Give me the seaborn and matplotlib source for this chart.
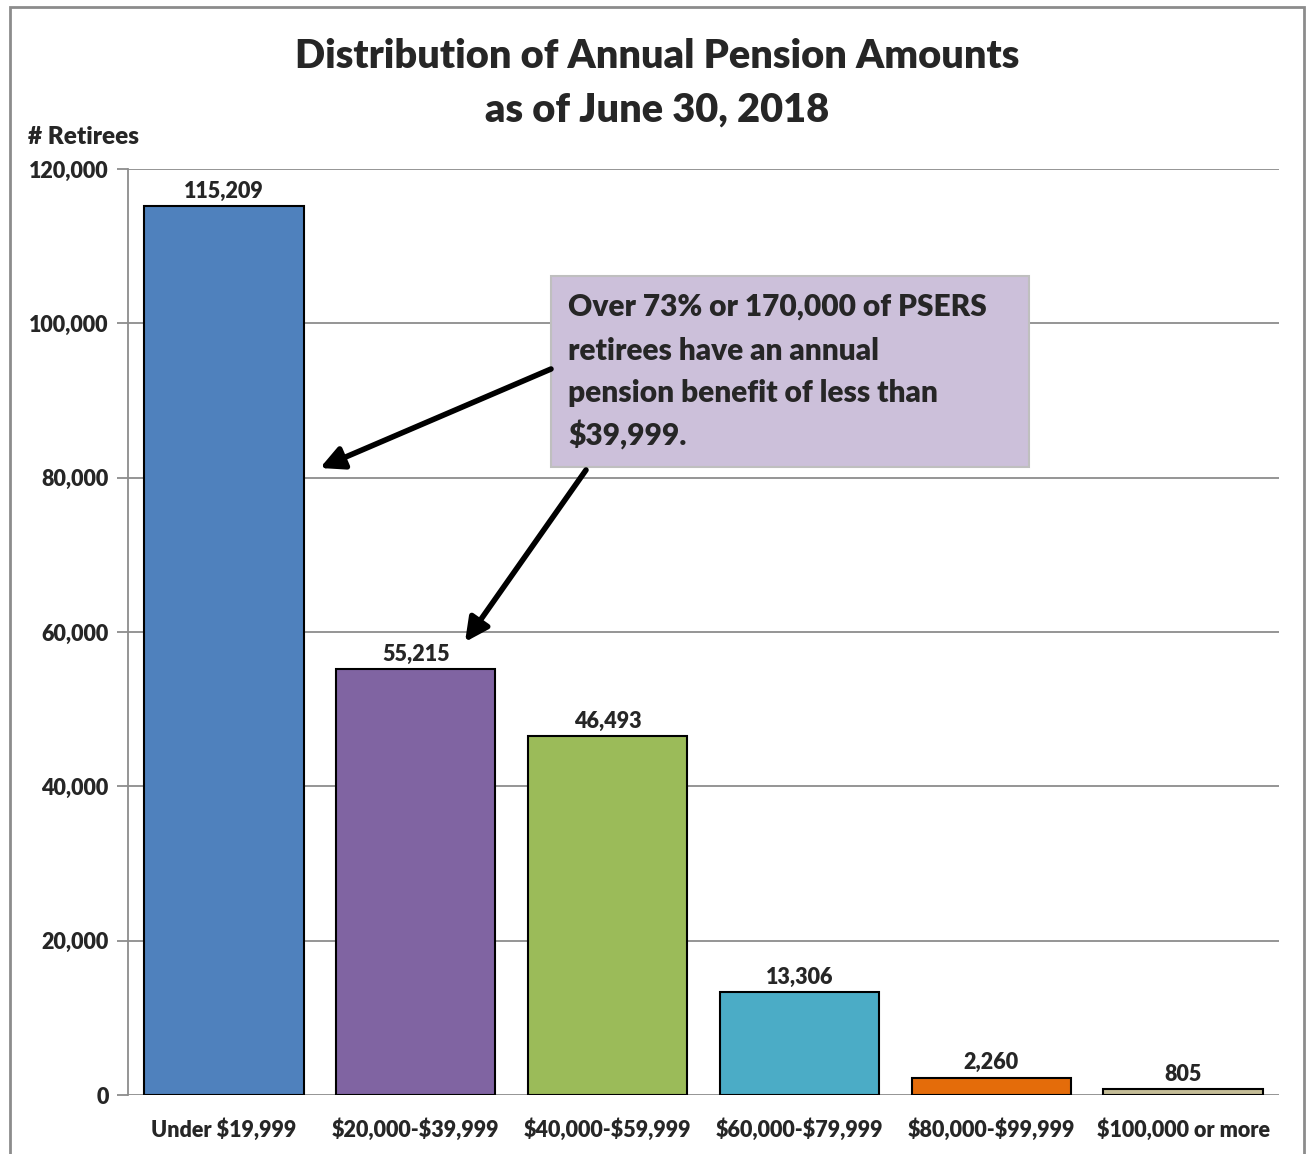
import matplotlib
matplotlib.use("Agg")
import matplotlib.pyplot as plt
import seaborn as sns
import pandas as pd
from matplotlib.patches import Rectangle, FancyArrowPatch

categories = ["Under $19,999", "$20,000-$39,999", "$40,000-$59,999",
              "$60,000-$79,999", "$80,000-$99,999", "$100,000 or more"]
retirees = [115209, 55215, 46493, 13306, 2260, 805]
colors = ["#4F81BD", "#8064A2", "#9BBB59", "#4BACC6", "#E46C0A", "#C4BD97"]
yticks = [0, 20000, 40000, 60000, 80000, 100000, 120000]
title_lines = ["Distribution of Annual Pension Amounts", "as of June 30, 2018"]
note_lines = ["Over 73% or 170,000 of PSERS", "retirees have an annual",
              "pension benefit of less than", "$39,999."]

sns.set_style("white")
plt.rcParams['font.family'] = ['Lato', 'DejaVu Sans']
plt.rcParams['font.weight'] = 'heavy'
plt.rcParams['text.parse_math'] = False
WT = 'heavy'

W, H = 1306, 1154
fig = plt.figure(figsize=(W / 100, H / 100), dpi=100)
ax = fig.add_axes([128 / W, 1 - 1095 / H, (1279 - 128) / W, (1095 - 169) / H])

df = pd.DataFrame({"cat": categories, "n": retirees})
sns.barplot(data=df, x="cat", y="n", hue="cat", palette=colors, legend=False,
            width=0.83, edgecolor="black", linewidth=1.5, saturation=1, ax=ax, zorder=3)

ax.set_xlim(-0.5, 5.5)
ax.set_ylim(0, 120000)
ax.set_yticks(yticks)
ax.set_yticklabels([f"{v:,}" for v in yticks], fontsize=15.5, fontweight=WT)
ax.set_xticks(range(len(categories)))
ax.set_xticklabels(categories, fontsize=15.5, fontweight=WT)
ax.set_xlabel("")
ax.set_ylabel("")
ax.yaxis.grid(True, color="#8C8C8C", linewidth=1.3, zorder=0)
ax.set_axisbelow(True)
for s in ["top", "right", "bottom"]:
    ax.spines[s].set_visible(False)
ax.spines["left"].set_color("#8C8C8C")
ax.spines["left"].set_linewidth(1.3)
ax.tick_params(axis="y", left=True, length=8, width=1.3, color="#8C8C8C", pad=6)
ax.tick_params(axis="x", bottom=False, pad=13)

for i, v in enumerate(retirees):
    ax.annotate(f"{v:,}", (i, v), xytext=(0, 3), textcoords="offset points",
                ha="center", va="bottom", fontsize=15.5, fontweight=WT)

for yy, line in zip([57, 110], title_lines):
    fig.text(657 / W, 1 - yy / H, line, ha="center", va="center", fontsize=28.6,
             fontweight=WT)
fig.text(28 / W, 1 - 137 / H, "# Retirees", ha="left", va="center", fontsize=17.5,
         fontweight=WT)

# annotation box
box = Rectangle((551 / W, 1 - 467 / H), (1029 - 551) / W, (467 - 276) / H,
                transform=fig.transFigure, facecolor="#CCC0DA", edgecolor="#BFBFBF",
                linewidth=1.5, zorder=5)
fig.add_artist(box)
for yy, line in zip([307, 351, 393, 435], note_lines):
    fig.text(568 / W, 1 - yy / H, line, ha="left", va="center", fontsize=21.5,
             fontweight=WT, zorder=6)

def px(x, y):
    return (x / W, 1 - y / H)

arrow = dict(arrowstyle="-|>,head_length=1.0,head_width=0.5", color="black",
             linewidth=4, shrinkA=0, shrinkB=0)
fig.add_artist(FancyArrowPatch(px(551, 369), px(320, 468),
               transform=fig.transFigure, **arrow, zorder=7, mutation_scale=14))
fig.add_artist(FancyArrowPatch(px(586, 470), px(465, 642),
               transform=fig.transFigure, **arrow, zorder=7, mutation_scale=14))

# outer chart border
border = Rectangle((10 / W, -0.05), (1304 - 10) / W, 1 - 7 / H + 0.05,
                   transform=fig.transFigure, facecolor="none", edgecolor="#8C8C8C",
                   linewidth=2, zorder=0)
fig.add_artist(border)

fig.savefig("out.png", dpi=100)
